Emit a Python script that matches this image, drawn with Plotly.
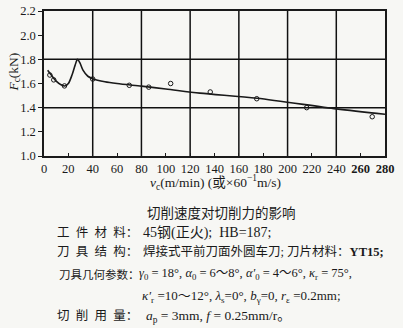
import plotly.graph_objects as go

# Measured cutting force vs cutting speed
speed_pts = [4.8, 8, 16.8, 40, 70, 86, 104, 136.5, 174.7, 215.7, 269.5]
force_pts = [1.67, 1.63, 1.58, 1.637, 1.585, 1.57, 1.60, 1.53, 1.474, 1.40, 1.325]

# Fitted trend curve
curve_speed = [3, 6, 10, 14, 17, 20, 23, 25.5, 27.5, 29.5, 32, 36, 40, 50, 60, 80, 100, 128, 175, 240, 280]
curve_force = [1.71, 1.67, 1.62, 1.59, 1.58, 1.60, 1.67, 1.75, 1.80, 1.77, 1.71, 1.66, 1.64, 1.615, 1.60, 1.578, 1.555, 1.52, 1.478, 1.39, 1.345]

x_ticks = list(range(0, 281, 20))
x_ticktext = [str(v) for v in x_ticks]
x_ticktext[-2] = "<b>260</b>"
x_ticktext[-1] = "<b>280</b>"
y_ticks = [1.0, 1.2, 1.4, 1.6, 1.8, 2.0, 2.2]
y_ticktext = ["1.0", "1.2", "1.4", "1.6", "1.8", "2.0", "2.2"]
x_grid = [40, 80, 120, 160, 200, 240]
y_grid = [1.4, 1.8]
x_range = [0, 280]
y_range = [1.0, 2.2]

W, H = 403, 328
L, R, T, B = 43.5, 17.5, 11, 172
INK = "#1a1a1a"
GRID = "#111111"
PAPER = "#f7f7f4"
SERIF = "Liberation Serif, Noto Sans CJK SC, serif"


def px(x):
    return (x - L) / (W - L - R)


def py(y):
    return (H - B - y) / (H - B - T)


fig = go.Figure()
# coarse grid: every 40 m/min and every 0.4 kN
for gx in x_grid:
    fig.add_trace(go.Scatter(
        x=[gx, gx], y=y_range, mode="lines",
        line=dict(color=GRID, width=1.5), hoverinfo="skip", showlegend=False))
for gy in y_grid:
    fig.add_trace(go.Scatter(
        x=x_range, y=[gy, gy], mode="lines",
        line=dict(color=GRID, width=1.5), hoverinfo="skip", showlegend=False))

fig.add_trace(go.Scatter(
    x=curve_speed, y=curve_force, mode="lines",
    line=dict(color=INK, width=1.6, shape="spline", smoothing=0.8),
    hoverinfo="skip", showlegend=False))
fig.add_trace(go.Scatter(
    x=speed_pts, y=force_pts, mode="markers",
    marker=dict(symbol="circle-open", size=4.5, color=INK, line=dict(width=1)),
    showlegend=False))

axis_common = dict(showgrid=False, zeroline=False, showline=True,
                   linecolor=INK, linewidth=1.5, mirror=True,
                   tickfont=dict(family=SERIF, size=12.5, color=INK))
fig.update_xaxes(range=x_range, tickvals=x_ticks, ticktext=x_ticktext,
                 ticks="inside", ticklen=3, tickcolor=INK, tickwidth=1,
                 **axis_common)
fig.update_yaxes(range=y_range, tickvals=y_ticks, ticktext=y_ticktext,
                 ticks="outside", ticklen=4, tickcolor=INK, tickwidth=1,
                 **axis_common)

texts = [
    # (x px, y px, anchor, size, html)
    (216, 182, "center", 13.5,
     "<i>v</i><sub>c</sub>(m/min) (或×60<sup>−1</sup>m/s)"),
    (222, 213, "center", 13.5, "切削速度对切削力的影响"),
    (55, 233, "left", 12.5, "工\u2002件\u2002材\u2002料："),
    (141, 233, "left", 14, "45钢(正火);  HB=187;"),
    (55, 251, "left", 12.5, "刀\u2002具\u2002结\u2002构："),
    (141, 251, "left", 12.5, "焊接式平前刀面外圆车刀; 刀片材料：<b>YT15;</b>"),
    (57, 274, "left", 11.5, "刀具几何参数："),
    (137, 274, "left", 12.5,
     "<i>γ</i><sub>0</sub> = 18°, <i>α</i><sub>0</sub> = 6～8°, "
     "<i>α′</i><sub>0</sub> = 4～6°, <i>κ</i><sub>r</sub> = 75°,"),
    (140, 296, "left", 13,
     "<i>κ′</i><sub>r</sub> =10～12°, <i>λ</i><sub>s</sub>=0°, "
     "<i>b</i><sub>γ</sub>=0, <i>r</i><sub>ε</sub> =0.2mm;"),
    (55, 316, "left", 12.5, "切\u2002削\u2002用\u2002量："),
    (144, 316, "left", 13.5,
     "<i>a</i><sub>p</sub> = 3mm, <i>f</i> = 0.25mm/r。"),
]
annotations = []
for x, y, anchor, size, txt in texts:
    annotations.append(dict(
        xref="paper", yref="paper", x=px(x), y=py(y),
        xanchor=anchor, yanchor="middle", text=txt, showarrow=False,
        font=dict(family=SERIF, size=size, color=INK)))
annotations.append(dict(
    xref="paper", yref="paper", x=px(13), y=py(72),
    xanchor="center", yanchor="middle", textangle=-90,
    text="<i>F</i><sub>c</sub>(kN)", showarrow=False,
    font=dict(family=SERIF, size=13.5, color=INK)))

fig.update_layout(
    width=W, height=H,
    margin=dict(l=L, r=R, t=T, b=B, autoexpand=False),
    paper_bgcolor=PAPER, plot_bgcolor=PAPER,
    annotations=annotations,
)

fig.write_html("out.html", config={"displayModeBar": False})
